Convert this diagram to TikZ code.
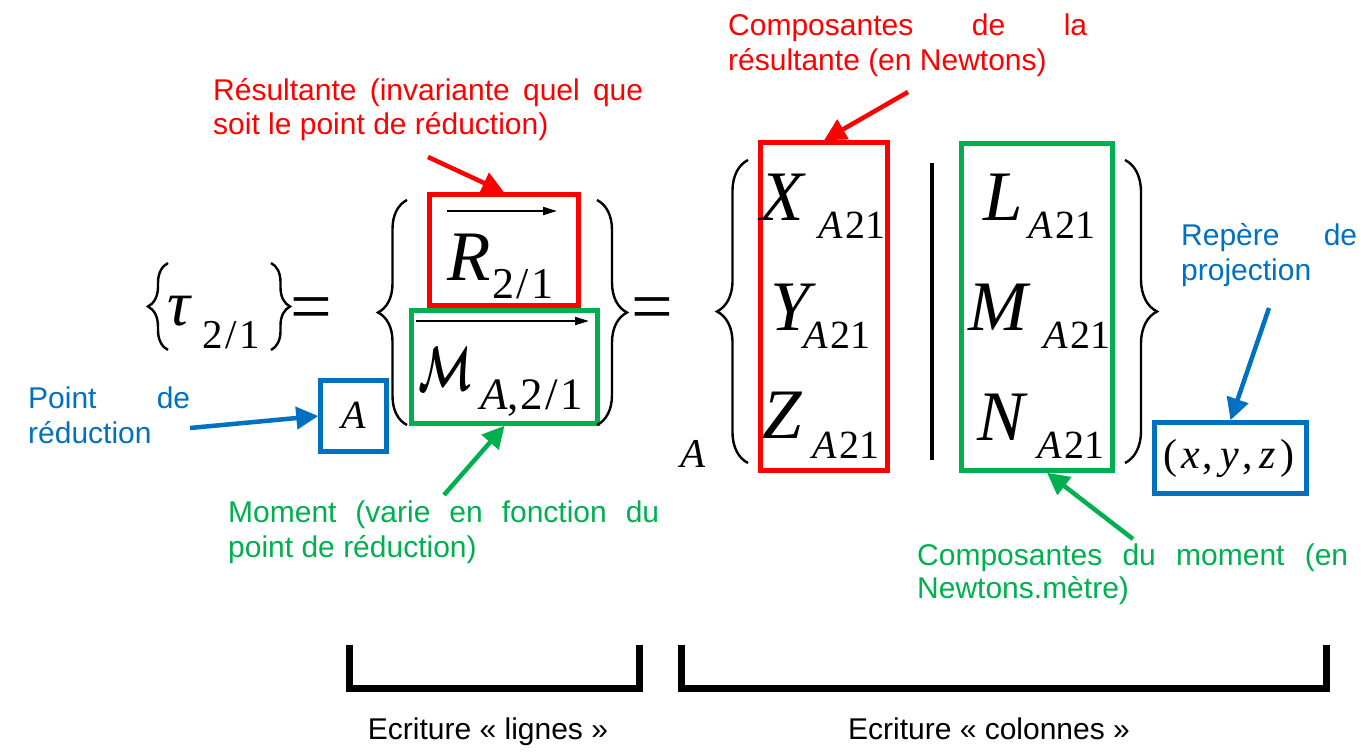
\documentclass[tikz,border=0pt]{standalone}
\usepackage{graphicx}
\usepackage{bm}
\usepackage{fontspec}
\setmainfont{Liberation Sans}
\newfontfamily\tnr{Liberation Serif}
\usetikzlibrary{arrows.meta,decorations.pathreplacing,calc}
\definecolor{cred}{RGB}{255,0,0}
\definecolor{cgreen}{RGB}{0,176,80}
\definecolor{cblue}{RGB}{0,112,192}
\newcommand\subAtwoone{\itshape A\upshape\kern3pt 21}
\newcommand\twoslashone{2\kern2.5pt/\kern2.5pt1}
\begin{document}
\begin{tikzpicture}[x=1pt,y=-1pt,
  lbl/.style={anchor=base west, inner sep=0pt, font=\fontsize{30}{30}\selectfont},
  big/.style={anchor=base west, inner sep=0pt, font=\tnr\itshape\fontsize{71}{71}\selectfont},
  subsc/.style={anchor=base west, inner sep=0pt, font=\tnr\fontsize{40}{40}\selectfont},
  framebox/.style={draw=#1, line width=4.5pt, inner sep=0pt, minimum width=0pt, minimum height=0pt},
  bracefx/.style={decorate, decoration={brace, amplitude=#1}, line width=2.4pt},
  arr/.style={line width=4.5pt, -{Triangle[length=22pt,width=22pt]}},
  ovarr/.style={line width=2pt, -{Triangle[length=14pt,width=8pt]}},
  eqsign/.style={anchor=base, inner sep=0pt, font=\tnr\fontsize{74}{74}\selectfont},
]
\useasboundingbox (0,0) rectangle (1367,753);

% ---------- left part: {tau_{2/1}} =
\draw[bracefx=20] (168,350) -- (168,263);
\node[anchor=base west, inner sep=0pt, font=\tnr\itshape\fontsize{64}{64}\selectfont] (tau) at (167,325) {τ};
\node[subsc, font=\tnr\fontsize{41}{41}\selectfont] (taus) at (202,348) {\twoslashone};
\draw[bracefx=19] (271,263) -- (271,350);
\node[eqsign] (eq1) at (311,331) {=};

% ---------- torseur en lignes
\node[framebox=cred, minimum width=149pt, minimum height=111pt] (Rbox) at (504,250) {};
\node[framebox=cgreen, minimum width=186pt, minimum height=113pt] (Mbox) at (504.5,367) {};
\draw[bracefx=29] (407,425) -- (407,200);
\draw[bracefx=30] (597,200) -- (597,425);
\coordinate (ovRa) at (447,211);
\coordinate (ovRb) at (557,211);
\draw[ovarr] (ovRa) -- (ovRb);
\node[big] (R) at (447,280) {R};
\node[subsc, font=\tnr\fontsize{44}{44}\selectfont] (Rs) at (492,298) {\twoslashone};
\coordinate (ovMa) at (416,321);
\coordinate (ovMb) at (589,321);
\draw[ovarr] (ovMa) -- (ovMb);
\node[anchor=base west, inner sep=0pt] (Mc) at (418,390) {\resizebox{54pt}{43pt}{$\bm{\mathcal{M}}$}};
\node[subsc, font=\tnr\fontsize{45}{45}\selectfont] (Ms) at (480,409) {\itshape A\upshape ,\kern2pt\twoslashone};
\node[eqsign] (eq2) at (652,331) {=};

\node[framebox=cblue, minimum width=66pt, minimum height=71pt] (Abox) at (353.5,416) {};
\node[anchor=base, inner sep=0pt, font=\tnr\itshape\fontsize{40}{40}\selectfont] (Aa) at (353.5,428) {A};

% ---------- torseur en colonnes
\node[anchor=base west, inner sep=0pt, font=\tnr\itshape\fontsize{41}{41}\selectfont] (Ap) at (680,467) {A};
\draw[bracefx=31] (748,463) -- (748,160);
\node[framebox=cred, minimum width=127pt, minimum height=328pt] (XYZ) at (824,306.5) {};
\node[big] (X) at (760,220) {X};
\node[subsc] (Xs) at (818,238) {\subAtwoone};
\node[big] (Y) at (770,330) {Y};
\node[subsc] (Ys) at (803,348) {\subAtwoone};
\node[big] (Z) at (762,438) {Z};
\node[subsc] (Zs) at (812,458) {\subAtwoone};
\coordinate (bart) at (932,163);
\coordinate (barb) at (932,460);
\draw[line width=4pt] (bart) -- (barb);
\node[framebox=cgreen, minimum width=151pt, minimum height=327pt] (LMN) at (1037,307) {};
\node[big] (L) at (983,220) {L};
\node[subsc] (Ls) at (1028,238) {\subAtwoone};
\node[big] (M) at (968,330) {M};
\node[subsc] (Mss) at (1043,348) {\subAtwoone};
\node[big] (N) at (977,440) {N};
\node[subsc] (Ns) at (1037,458) {\subAtwoone};
\draw[bracefx=32] (1125,160) -- (1125,463);

\node[framebox=cblue, minimum width=152pt, minimum height=71pt] (xyz) at (1230.5,458) {};
\node[anchor=base west, inner sep=0pt, font=\tnr\fontsize{42}{42}\selectfont] (xyzt) at (1163,468)
  {(\kern4pt\textit{x}\kern3pt,\kern7pt\textit{y}\kern3pt,\kern7pt\textit{z}\kern5pt)};

% ---------- labels
\node[lbl, text=cred] (t1a) at (728,35) {\makebox[359pt][s]{Composantes de la}};
\node[lbl, text=cred] (t1b) at (728,70) {résultante (en Newtons)};
\node[lbl, text=cred] (t2a) at (213,100) {\makebox[430pt][s]{Résultante (invariante quel que}};
\node[lbl, text=cred] (t2b) at (213,134) {soit le point de réduction)};
\node[lbl, text=cblue] (t3a) at (28,408) {\makebox[162pt][s]{Point de}};
\node[lbl, text=cblue] (t3b) at (28,443) {réduction};
\node[lbl, text=cblue] (t4a) at (1181,245) {\makebox[176pt][s]{Repère de}};
\node[lbl, text=cblue] (t4b) at (1181,280) {projection};
\node[lbl, text=cgreen] (t5a) at (228,522) {\makebox[431pt][s]{Moment (varie en fonction du}};
\node[lbl, text=cgreen] (t5b) at (228,557) {point de réduction)};
\node[lbl, text=cgreen] (t6a) at (917,565) {\makebox[431pt][s]{Composantes du moment (en}};
\node[lbl, text=cgreen] (t6b) at (917,598) {Newtons.mètre)};

% ---------- arrows
\coordinate (a1) at (908,92);
\draw[arr, cred] (a1) -- (XYZ.north);
\coordinate (a2) at (428,157);
\draw[arr, cred] (a2) -- (Rbox.north);
\coordinate (a3) at (190,428);
\draw[arr, cblue] (a3) -- (Abox.west);
\coordinate (a4) at (444,495);
\draw[arr, cgreen] (a4) -- (Mbox.south);
\coordinate (a5) at (1133,539);
\draw[arr, cgreen] (a5) -- ($(LMN.south)+(10,0)$);
\coordinate (a6) at (1269,308);
\draw[arr, cblue] (a6) -- (xyz.north);

% ---------- bottom brackets
\draw[line width=7pt] (349.5,645) -- (349.5,688) -- (639.5,688) -- (639.5,645);
\draw[line width=7pt] (681.5,645) -- (681.5,688) -- (1326.5,688) -- (1326.5,645);
\node[anchor=base, inner sep=0pt, font=\fontsize{30}{30}\selectfont] (e1) at (488,739) {Ecriture « lignes »};
\node[anchor=base, inner sep=0pt, font=\fontsize{30}{30}\selectfont] (e2) at (989,739) {Ecriture « colonnes »};
\end{tikzpicture}
\end{document}
